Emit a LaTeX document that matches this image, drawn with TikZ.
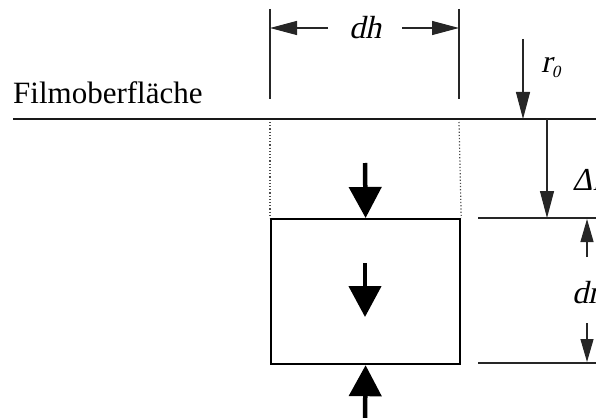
\documentclass[tikz,border=0pt]{standalone}
\usepackage{fontspec}
\setmainfont{Liberation Serif}
\newfontfamily\slantfont{Liberation Serif}[FakeSlant=0.22]
\usetikzlibrary{arrows.meta}
\begin{document}
\begin{tikzpicture}[x=1pt,y=-1pt,
  thin line/.style={line width=1.2pt,black!85},
  thinarrow/.style={thin line,-{Triangle[length=27pt,width=14pt]}},
  thickarrow/.style={line width=4.5pt,-{Triangle[length=31pt,width=32pt]}},
  lbl/.style={inner sep=0pt,font=\fontsize{31}{36}\selectfont},
  ilbl/.style={inner sep=0pt,font=\fontsize{32}{38}\selectfont\slantfont}]
\useasboundingbox (0,0) rectangle (596,417);
% surface
\coordinate (sL) at (13,119);
\coordinate (sR) at (596,119);
\draw[line width=2.2pt,black!90] (sL) -- (sR);
\node[lbl,anchor=base west] (film) at (13,103) {Filmoberfläche};
% box
\node[draw,line width=2.2pt,minimum width=189pt,minimum height=145pt,inner sep=0pt,anchor=north west] (box) at (270,218) {};
% dh verticals
\coordinate (vLt) at (270,9);
\coordinate (vLb) at (270,99);
\coordinate (vRt) at (459,9);
\coordinate (vRb) at (459,99);
\draw[thin line] (vLt) -- (vLb);
\draw[thin line] (vRt) -- (vRb);
\node[ilbl,anchor=base] (dh) at (365,39) {dh};
\coordinate (dhL) at (328,28);
\coordinate (dhR) at (402,28);
\coordinate (dhLt) at (270,28);
\coordinate (dhRt) at (459,28);
\draw[thinarrow] (dhL) -- (dhLt);
\draw[thinarrow] (dhR) -- (dhRt);
% dotted
\coordinate (dLt) at (270,122);
\coordinate (dRt) at (459,122);
\draw[line width=1.2pt,dotted,black!70] (dLt) -- (box.north west);
\draw[line width=1.2pt,dotted,black!70] (dRt) -- (box.north east);
% r0
\coordinate (r0s) at (523,39);
\coordinate (r0e) at (523,119);
\draw[thinarrow] (r0s) -- (r0e);
\node[ilbl,anchor=base west] (r0) at (541,73) {r\raisebox{-5pt}{\fontsize{17}{20}\selectfont 0}};
% Delta r
\coordinate (drs) at (547,119);
\coordinate (dre) at (547,218);
\draw[thinarrow] (drs) -- (dre);
\node[ilbl,anchor=base west] (Dr) at (572,190) {Δr};
% level lines
\coordinate (l1a) at (478,218);
\coordinate (l1b) at (596,218);
\coordinate (l2a) at (478,363);
\coordinate (l2b) at (596,363);
\draw[thin line] (l1a) -- (l1b);
\draw[thin line] (l2a) -- (l2b);
% dr arrows
\coordinate (a1s) at (587,257);
\coordinate (a1e) at (587,219);
\coordinate (a2s) at (587,323);
\coordinate (a2e) at (587,362);
\draw[thin line,-{Triangle[length=23pt,width=13pt]}] (a1s) -- (a1e);
\draw[thin line,-{Triangle[length=23pt,width=13pt]}] (a2s) -- (a2e);
\node[ilbl,anchor=base west] (dr) at (572,303) {dr};
% thick arrows
\coordinate (t1) at (365,163);
\coordinate (m1) at (365,263);
\coordinate (m2) at (365,317);
\coordinate (b1) at (365,420);
\draw[thickarrow] (t1) -- (box.north);
\draw[thickarrow] (m1) -- (m2);
\draw[thickarrow] (b1) -- (box.south);
\end{tikzpicture}
\end{document}
